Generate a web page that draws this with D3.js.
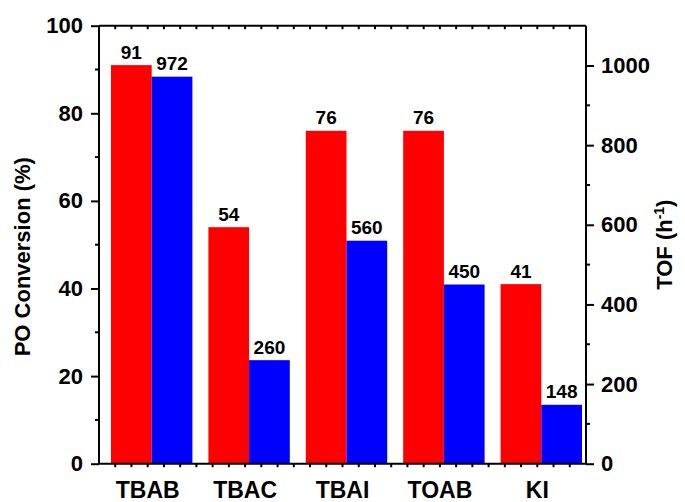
<!DOCTYPE html>
<html>
<head>
<meta charset="utf-8">
<script src="https://cdn.jsdelivr.net/npm/d3@7"></script>
<style>
  body { margin: 0; background: #fff; }
  svg text { font-family: "Liberation Sans", Arial, sans-serif; font-weight: bold; fill: #000; }
</style>
</head>
<body>
<svg id="chart" width="685" height="502"></svg>
<script>
// Catalyst screening: PO conversion (left axis) and TOF (right axis)
const categories = ["TBAB", "TBAC", "TBAI", "TOAB", "KI"];
const conversion = [91, 54, 76, 76, 41];        // %
const tof = [972, 260, 560, 450, 148];          // h^-1
const leftTicks = [0, 20, 40, 60, 80, 100];
const rightTicks = [0, 200, 400, 600, 800, 1000];

const svg = d3.select("#chart");
const m = { left: 99, right: 586, top: 25.7, bottom: 463.7 };

const x = d3.scaleBand().domain(categories).range([m.left, m.right]).padding(0);
const yL = d3.scaleLinear().domain([0, 100]).range([m.bottom, m.top]);
const yR = d3.scaleLinear().domain([0, 1100]).range([m.bottom, m.top]);

// bar pair inside each category slot
const inner = d3.scaleBand().domain(["conv", "tof"]).range([12, 93.4]).padding(0);

const series = [
  { key: "conv", values: conversion, y: yL, color: "#ff0000" },
  { key: "tof", values: tof, y: yR, color: "#0000ff" }
];

series.forEach(s => {
  const g = svg.append("g");
  g.selectAll("rect").data(categories).join("rect")
    .attr("x", c => x(c) + inner(s.key))
    .attr("width", inner.bandwidth())
    .attr("y", (c, i) => s.y(s.values[i]))
    .attr("height", (c, i) => m.bottom - s.y(s.values[i]))
    .attr("fill", s.color);
  g.selectAll("text").data(categories).join("text")
    .attr("x", c => x(c) + inner(s.key) + inner.bandwidth() / 2)
    .attr("y", (c, i) => s.y(s.values[i]) - 6.5)
    .attr("text-anchor", "middle")
    .style("font-size", "19px")
    .text((c, i) => s.values[i]);
});

const axisStroke = 2;
const fmt = d3.format("d");

// left axis
const left = svg.append("g").attr("transform", `translate(${m.left},0)`)
  .call(d3.axisLeft(yL).tickValues(leftTicks).tickFormat(fmt).tickSize(8).tickPadding(8));
left.selectAll("text").style("font-size", "22px");
left.append("g").selectAll("line").data(d3.range(10, 100, 20)).join("line")
  .attr("x1", 0).attr("x2", -4).attr("y1", d => yL(d)).attr("y2", d => yL(d));

// right axis
const right = svg.append("g").attr("transform", `translate(${m.right},0)`)
  .call(d3.axisRight(yR).tickValues(rightTicks).tickFormat(fmt).tickSize(8).tickPadding(7));
right.selectAll("text").style("font-size", "22px");
right.append("g").selectAll("line").data(d3.range(100, 1100, 200)).join("line")
  .attr("x1", 0).attr("x2", 4).attr("y1", d => yR(d)).attr("y2", d => yR(d));

// bottom axis with category labels
const bottom = svg.append("g").attr("transform", `translate(0,${m.bottom})`)
  .call(d3.axisBottom(x).tickSize(0).tickPadding(18));
bottom.selectAll("text").style("font-size", "23px");

// minor ticks along top and bottom edges
const step = (m.right - m.left) / 30;
const minor = d3.range(1, 30).map(k => m.left + k * step);
svg.append("g").selectAll("line").data(minor).join("line")
  .attr("x1", d => d).attr("x2", d => d).attr("y1", m.bottom).attr("y2", m.bottom + 3.5);
svg.append("g").selectAll("line").data(minor).join("line")
  .attr("x1", d => d).attr("x2", d => d).attr("y1", m.top).attr("y2", m.top + 3.5);

// top frame line
svg.append("line").attr("x1", m.left).attr("x2", m.right).attr("y1", m.top).attr("y2", m.top);

svg.selectAll(".domain").remove();
svg.append("line").attr("x1", m.left).attr("x2", m.left).attr("y1", m.top).attr("y2", m.bottom);
svg.append("line").attr("x1", m.right).attr("x2", m.right).attr("y1", m.top).attr("y2", m.bottom);
svg.append("line").attr("x1", m.left - 1).attr("x2", m.right + 1).attr("y1", m.bottom).attr("y2", m.bottom);

svg.selectAll("line").attr("stroke", "#000").attr("stroke-width", axisStroke);

// axis titles
svg.append("text")
  .attr("transform", `translate(30,${(m.top + m.bottom) / 2 + 12}) rotate(-90)`)
  .attr("text-anchor", "middle")
  .style("font-size", "22px")
  .text("PO Conversion (%)");

const rt = svg.append("text")
  .attr("transform", `translate(672,${(m.top + m.bottom) / 2}) rotate(-90)`)
  .attr("text-anchor", "middle")
  .style("font-size", "22px");
rt.append("tspan").text("TOF (h");
rt.append("tspan").attr("dy", -8).style("font-size", "14px").text("-1");
rt.append("tspan").attr("dy", 8).text(")");
</script>
</body>
</html>
